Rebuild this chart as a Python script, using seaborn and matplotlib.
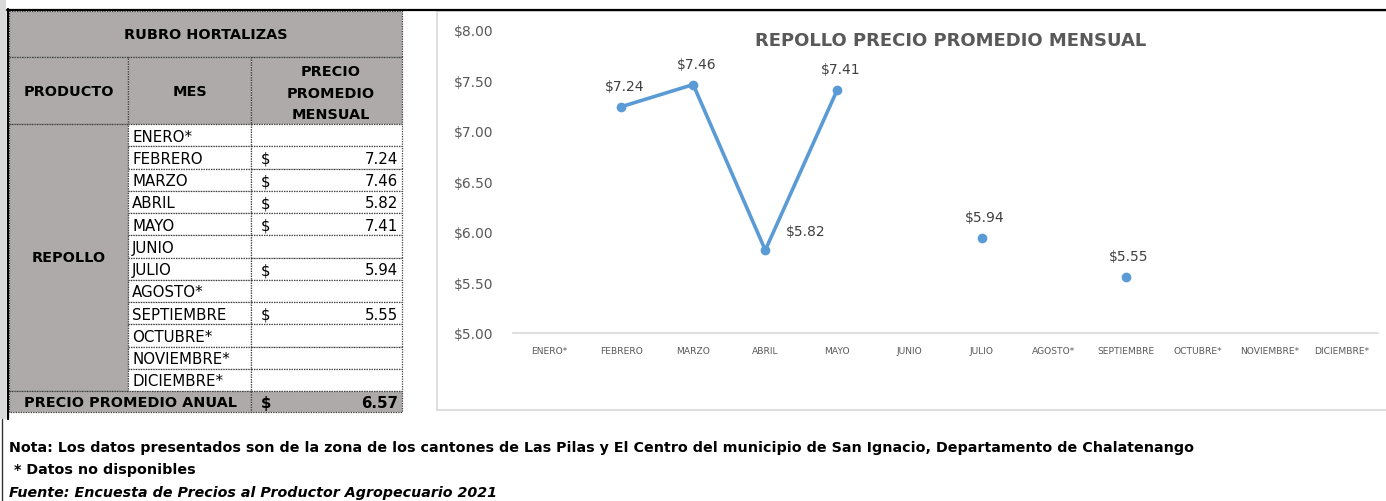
import numpy as np
import pandas as pd
import seaborn as sns
import matplotlib
matplotlib.use("Agg")
import matplotlib.pyplot as plt
from matplotlib.patches import Rectangle

# ----------------------------------------------------------------------
# data
# ----------------------------------------------------------------------
meses = ["ENERO*", "FEBRERO", "MARZO", "ABRIL", "MAYO", "JUNIO", "JULIO",
         "AGOSTO*", "SEPTIEMBRE", "OCTUBRE*", "NOVIEMBRE*", "DICIEMBRE*"]
precios = [np.nan, 7.24, 7.46, 5.82, 7.41, np.nan, 5.94,
           np.nan, 5.55, np.nan, np.nan, np.nan]
promedio_anual = 6.57
producto = "REPOLLO"
rubro = "RUBRO HORTALIZAS"
titulo = "REPOLLO PRECIO PROMEDIO MENSUAL"
y_ticks = [5.0, 5.5, 6.0, 6.5, 7.0, 7.5, 8.0]
nota = ("Nota: Los datos presentados son de la zona de los cantones de Las Pilas y "
        "El Centro del municipio de San Ignacio, Departamento de Chalatenango")
nota_asterisco = " * Datos no disponibles"
fuente = "Fuente: Encuesta de Precios al Productor Agropecuario 2021"

# ----------------------------------------------------------------------
# style
# ----------------------------------------------------------------------
sns.set_style("white")
plt.rcParams["font.family"] = ["DejaVu Sans"]
plt.rcParams["text.color"] = "black"
azul = "#5B9BD5"
gris_celda = "#AEAAAA"
gris_texto = "#595959"
borde = "#404040"

W, H = 1386, 502
fig = plt.figure(figsize=(W / 100, H / 100), dpi=100)

# pixel-space overlay for table, frame and notes
bg = fig.add_axes([0, 0, 1, 1])
bg.set_xlim(0, W)
bg.set_ylim(H, 0)
bg.axis("off")

# page edges
bg.add_patch(Rectangle((0, 0), 6, 420, color="#D9D9D9", lw=0))
bg.plot([7, W], [10.5, 10.5], color="black", lw=1.6)
bg.plot([7.5, 7.5], [10, 420], color="black", lw=1.6)
bg.plot([2, 2], [420, H], color="#333333", lw=1.0)

# chart frame
bg.add_patch(Rectangle((437, 12), W - 437 + 5, 411 - 12, fill=False,
                       edgecolor="#D9D9D9", lw=1.2))


def cell(x0, y0, x1, y1, fill="white"):
    bg.add_patch(Rectangle((x0, y0), x1 - x0, y1 - y0, facecolor=fill,
                           edgecolor=borde, lw=0.9, ls=(0, (1, 1))))


c0, c1, c2, c3 = 9, 128, 251, 402
r_top, r_hdr, r_body = 12, 58, 125
row_h = (392 - r_body) / len(meses)
r_last = r_body + row_h * len(meses)
r_end = 413
fs_head = 10.4
fs_cell = 10.8

# header rows
cell(c0, r_top, c3, r_hdr, gris_celda)
bg.text((c0 + c3) / 2, 35, rubro, ha="center", va="center",
        fontsize=fs_head, fontweight="bold")
cell(c0, r_hdr, c1, r_body, gris_celda)
cell(c1, r_hdr, c2, r_body, gris_celda)
cell(c2, r_hdr, c3, r_body, gris_celda)
bg.text((c0 + c1) / 2, 92, "PRODUCTO", ha="center", va="center",
        fontsize=fs_head, fontweight="bold")
bg.text((c1 + c2) / 2, 92, "MES", ha="center", va="center",
        fontsize=fs_head, fontweight="bold")
for k, w in enumerate(["PRECIO", "PROMEDIO", "MENSUAL"]):
    bg.text((c2 + c3) / 2 + 4, 72 + 21.5 * k, w, ha="center", va="center",
            fontsize=fs_head, fontweight="bold")

# product column (merged)
cell(c0, r_body, c1, r_last, gris_celda)
bg.text((c0 + c1) / 2, (r_body + r_last) / 2, producto, ha="center",
        va="center", fontsize=fs_head, fontweight="bold")

# month rows
for i, (mes, p) in enumerate(zip(meses, precios)):
    y0 = r_body + i * row_h
    cell(c1, y0, c2, y0 + row_h)
    cell(c2, y0, c3, y0 + row_h)
    yc = y0 + row_h / 2 + 1
    bg.text(c1 + 4, yc, mes, ha="left", va="center", fontsize=fs_cell)
    if not np.isnan(p):
        bg.text(c2 + 10, yc, "$", ha="left", va="center", fontsize=fs_cell)
        bg.text(c3 - 4, yc, f"{p:.2f}", ha="right", va="center",
                fontsize=fs_cell)

# annual average row
cell(c0, r_last, c2, r_end, gris_celda)
cell(c2, r_last, c3, r_end, gris_celda)
yc = (r_last + r_end) / 2 + 1
bg.text((c0 + c2) / 2, yc, "PRECIO PROMEDIO ANUAL", ha="center", va="center",
        fontsize=fs_head, fontweight="bold")
bg.text(c2 + 10, yc, "$", ha="left", va="center", fontsize=fs_cell,
        fontweight="bold")
bg.text(c3 - 4, yc, f"{promedio_anual:.2f}", ha="right", va="center",
        fontsize=fs_cell, fontweight="bold")

# chart title
bg.text(951, 41, titulo, ha="center", va="center", fontsize=13,
        fontweight="bold", color=gris_texto)

# notes
fs_nota = 10.25
bg.text(9, 448, nota, ha="left", va="center", fontsize=fs_nota,
        fontweight="bold")
bg.text(9, 470, nota_asterisco, ha="left", va="center", fontsize=fs_nota,
        fontweight="bold")
bg.text(9, 493, fuente, ha="left", va="center", fontsize=fs_nota,
        fontweight="bold", style="italic")

# ----------------------------------------------------------------------
# line chart
# ----------------------------------------------------------------------
df = pd.DataFrame({"mes": meses, "precio": precios})
df["pos"] = np.arange(len(meses))
# contiguous runs of values -> separate line units (gaps at missing months)
df["segmento"] = np.cumsum(df["precio"].isna())
df_plot = df.dropna(subset=["precio"])

ax_l, ax_r, ax_t, ax_b = 513, 1378, 31, 334
ax = fig.add_axes([ax_l / W, (H - ax_b) / H, (ax_r - ax_l) / W, (ax_b - ax_t) / H])
ax.patch.set_alpha(0)

sns.lineplot(data=df_plot, x="pos", y="precio", units="segmento",
             estimator=None, color=azul, lw=2.6, marker="o", markersize=7,
             markeredgewidth=0, ax=ax)

ax.set_xlim(-0.5, len(meses) - 0.5)
ax.set_ylim(y_ticks[0], y_ticks[-1])
ax.set_xticks(df["pos"].tolist())
ax.set_xticklabels(meses)
ax.set_yticks(y_ticks)
ax.set_yticklabels([f"${v:.2f}" for v in y_ticks])
ax.tick_params(axis="y", length=0, pad=14, labelsize=10, labelcolor=gris_texto)
ax.tick_params(axis="x", length=0, pad=9, labelsize=6.6, labelcolor=gris_texto)
ax.set_xlabel("")
ax.set_ylabel("")
for s in ["top", "right", "left"]:
    ax.spines[s].set_visible(False)
ax.spines["bottom"].set_color("#D9D9D9")
ax.spines["bottom"].set_linewidth(1.2)

# data labels
for _, r in df_plot.iterrows():
    dx, dy = (40, 19) if r["mes"] == "ABRIL" else (3, 21)
    ax.annotate(f"${r['precio']:.2f}", (r["pos"], r["precio"]),
                xytext=(dx, dy), textcoords="offset pixels",
                ha="center", va="center", fontsize=10, color="#404040")

fig.savefig("out.png", dpi=100)
